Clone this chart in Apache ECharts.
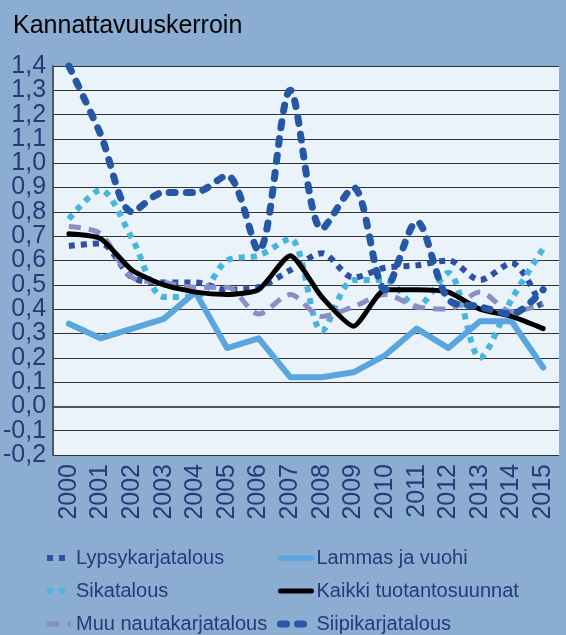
<!DOCTYPE html>
<html>
<head>
    <meta charset="utf-8">
    <title>Kannattavuuskerroin</title>
    <script src="https://cdn.jsdelivr.net/npm/echarts@6/dist/echarts.min.js"></script>
    <style>
        html, body { margin: 0; padding: 0; background: #8AADD1; }
        #container { width: 566px; height: 635px; }
    </style>
</head>
<body>
<div id="container"></div>
<script type="text/javascript">
    // vuodet
    var years = ['2000', '2001', '2002', '2003', '2004', '2005', '2006', '2007',
                 '2008', '2009', '2010', '2011', '2012', '2013', '2014', '2015'];

    // sarjat
    var lypsy   = [0.66, 0.67, 0.53, 0.51, 0.51, 0.48, 0.49, 0.56, 0.63, 0.53, 0.57, 0.58, 0.60, 0.52, 0.59, 0.39];
    var sika    = [0.77, 0.89, 0.69, 0.45, 0.45, 0.60, 0.62, 0.69, 0.31, 0.52, 0.52, 0.41, 0.55, 0.20, 0.44, 0.65];
    var muu     = [0.74, 0.71, 0.53, 0.51, 0.49, 0.49, 0.38, 0.46, 0.37, 0.41, 0.46, 0.41, 0.40, 0.47, 0.39, 0.42];
    var lammas  = [0.34, 0.28, 0.32, 0.36, 0.47, 0.24, 0.28, 0.12, 0.12, 0.14, 0.21, 0.32, 0.24, 0.35, 0.35, 0.16];
    var kaikki  = [0.71, 0.69, 0.56, 0.50, 0.47, 0.46, 0.48, 0.62, 0.45, 0.33, 0.48, 0.48, 0.47, 0.40, 0.37, 0.32];
    var siipi   = [1.40, 1.12, 0.80, 0.88, 0.88, 0.95, 0.64, 1.30, 0.73, 0.90, 0.48, 0.76, 0.44, 0.41, 0.38, 0.48];

    var yMin = -0.2, yMax = 1.4, yStep = 0.1;

    var font = "'Liberation Sans', Arial, sans-serif";
    var navy = '#28397A';

    var myChart = echarts.init(document.getElementById('container'));

    function lineSerie(name, data, color, width, dash, cap, smooth) {
        return {
            name: name,
            type: 'line',
            data: data,
            symbol: 'none',
            smooth: smooth,
            lineStyle: { color: color, width: width, type: dash, cap: cap, join: 'round' },
            itemStyle: { color: color }
        };
    }

    function fmt(v) { return v.toFixed(1).replace('.', ','); }
    function isEnd(v) { return Math.abs(v - yMin) < 1e-9 || Math.abs(v - yMax) < 1e-9; }

    var legendText = { fontFamily: font, fontSize: 20, color: navy, lineHeight: 20 };
    var yLabel = { margin: 7, fontFamily: font, fontSize: 25, color: navy };

    var option = {
        backgroundColor: '#8AADD1',
        animation: false,
        title: {
            text: 'Kannattavuuskerroin',
            left: 8,
            top: 9,
            textStyle: { fontFamily: font, fontSize: 25, fontWeight: 'normal', color: '#000' }
        },
        legend: [{
            data: ['Lypsykarjatalous', 'Sikatalous', 'Muu nautakarjatalous'],
            orient: 'vertical',
            left: 44,
            top: 548,
            padding: 0,
            itemGap: 13,
            itemWidth: 24,
            itemHeight: 12,
            itemStyle: { opacity: 0 },
            lineStyle: { width: 'inherit' },
            textStyle: legendText
        }, {
            data: ['Lammas ja vuohi', 'Kaikki tuotantosuunnat', 'Siipikarjatalous'],
            orient: 'vertical',
            left: 277,
            top: 548,
            padding: 0,
            itemGap: 13,
            itemWidth: 31,
            itemHeight: 12,
            itemStyle: { opacity: 0 },
            lineStyle: { width: 'inherit' },
            textStyle: legendText
        }],
        grid: {
            left: 50,
            right: 7,
            top: 66,
            bottom: 180,
            show: true,
            backgroundColor: '#EAF3FA',
            borderWidth: 0
        },
        xAxis: {
            type: 'category',
            data: years,
            boundaryGap: true,
            axisLine: { lineStyle: { color: '#555', width: 2 } },
            axisTick: { show: false },
            axisLabel: {
                interval: 0,
                rotate: 90,
                margin: 9,
                fontFamily: font,
                fontSize: 25,
                color: navy
            }
        },
        yAxis: [{
            // väliarvot
            type: 'value',
            min: yMin,
            max: yMax,
            interval: yStep,
            axisLine: { show: true, lineStyle: { color: '#555', width: 2 } },
            axisTick: { show: false },
            splitLine: { lineStyle: { color: '#333', width: 1 } },
            axisLabel: Object.assign({
                showMinLabel: false,
                showMaxLabel: false,
                formatter: fmt
            }, yLabel)
        }, {
            // ääriarvot -0,2 ja 1,4
            type: 'value',
            position: 'left',
            min: yMin,
            max: yMax,
            interval: yStep,
            axisLine: { show: false },
            axisTick: { show: false },
            splitLine: { show: false },
            axisLabel: Object.assign({
                showMinLabel: true,
                showMaxLabel: true,
                formatter: function (v) { return isEnd(v) ? fmt(v) : ''; }
            }, yLabel)
        }],
        series: [
            lineSerie('Lypsykarjatalous', lypsy, '#2F4FA2', 6, [6, 6], 'butt', 0.3),
            lineSerie('Sikatalous', sika, '#4AB5DA', 6, [6, 6], 'butt', 0.3),
            lineSerie('Muu nautakarjatalous', muu, '#8A8EC3', 5, [12, 8], 'butt', 0.3),
            lineSerie('Lammas ja vuohi', lammas, '#5AA6DC', 6, 'solid', 'round', false),
            lineSerie('Kaikki tuotantosuunnat', kaikki, '#000000', 5, 'solid', 'round', 0.2),
            lineSerie('Siipikarjatalous', siipi, '#2657A4', 7, [6, 11], 'round', 0.3)
        ]
    };

    myChart.setOption(option);
</script>
</body>
</html>
